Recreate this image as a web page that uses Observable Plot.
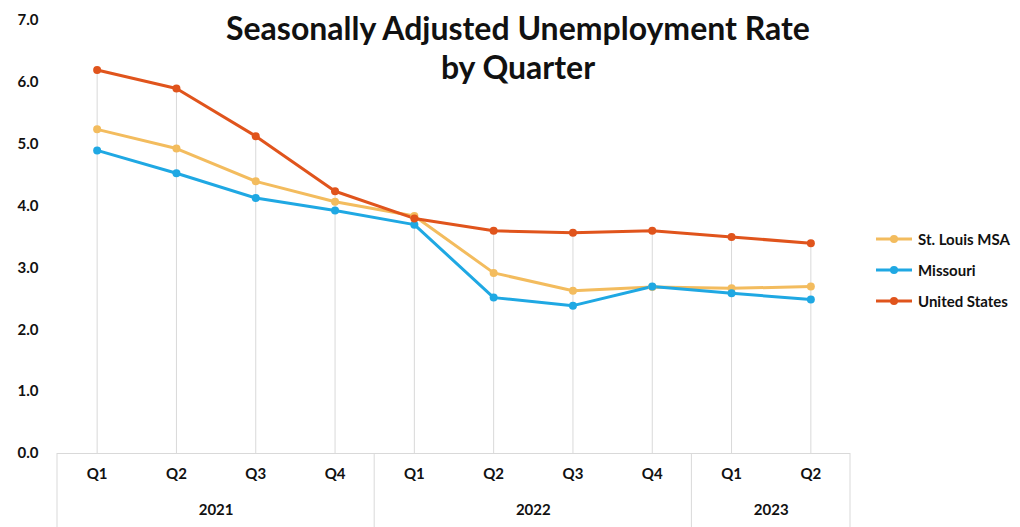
<!DOCTYPE html>
<html><head><meta charset="utf-8">
<script src="https://cdn.jsdelivr.net/npm/d3@7"></script>
<script src="https://cdn.jsdelivr.net/npm/@observablehq/plot@0.6"></script>
<style>
body{margin:0;background:#fff;font-family:Lato,"Open Sans",sans-serif;}
#wrap{position:relative;width:1020px;height:527px;overflow:hidden;}
#title{position:absolute;left:0;width:1036px;top:8px;text-align:center;font-weight:bold;font-size:32px;line-height:39px;color:#111;}
#legend{position:absolute;left:874px;top:223px;}
.item{display:flex;align-items:center;height:31px;font-weight:bold;font-size:15px;color:#111;}
.item svg{margin-right:4px;}
</style></head>
<body>
<div id="wrap"><div id="chart"></div>
<div id="title">Seasonally Adjusted Unemployment Rate<br>by Quarter</div>
<div id="legend"></div></div>
<script>
const quarters = ["Q1","Q2","Q3","Q4","Q1","Q2","Q3","Q4","Q1","Q2"];
const years    = ["2021","2021","2021","2021","2022","2022","2022","2022","2023","2023"];
const stLouis  = [5.24,4.93,4.4,4.07,3.84,2.92,2.63,2.69,2.67,2.7];
const missouri = [4.9,4.53,4.13,3.93,3.7,2.52,2.39,2.7,2.59,2.49];
const unitedStates = [6.2,5.9,5.13,4.24,3.8,3.6,3.57,3.6,3.5,3.4];
const seriesNames  = ["St. Louis MSA","Missouri","United States"];
const seriesColors = ["#F3BC5E","#1FA8E3","#E0541C"];
const yTicks = [0,1,2,3,4,5,6,7];

const seriesValues = [stLouis, missouri, unitedStates];
const rows = [];
seriesNames.forEach((name, s) => seriesValues[s].forEach((v, i) => rows.push({series: name, i, v})));
const cats = quarters.map((q, i) => ({i, q, year: years[i], top: d3.max(seriesValues, a => a[i])}));
const yearGroups = d3.groups(cats, d => d.year).map(([year, g]) => ({year, i: d3.mean(g, d => d.i), lo: d3.min(g, d => d.i) - 0.5, hi: d3.max(g, d => d.i) + 0.5}));
const seps = Array.from(new Set(yearGroups.flatMap(g => [g.lo, g.hi])));

const grid = "#d9d9d9";
const plot = Plot.plot({
  width: 1020, height: 527,
  marginLeft: 57, marginRight: 170, marginTop: 20, marginBottom: 74,
  style: {fontFamily: "Lato, 'Open Sans', sans-serif", background: "#fff"},
  x: {domain: [-0.5, quarters.length - 0.5], axis: null},
  y: {domain: [0, 7], axis: null},
  color: {domain: seriesNames, range: seriesColors},
  marks: [
    Plot.ruleX(cats, {x: "i", y1: 0, y2: "top", stroke: grid, strokeWidth: 1}),
    Plot.ruleY([0], {stroke: grid, strokeWidth: 1}),
    Plot.axisY({ticks: yTicks, tickFormat: d => d.toFixed(1), tickSize: 0, tickPadding: 19, label: null, fontSize: 15, fontWeight: "bold", fill: "#111"}),
    Plot.line(rows, {x: "i", y: "v", z: "series", stroke: "series", strokeWidth: 3, strokeLinejoin: "round"}),
    Plot.dot(rows, {x: "i", y: "v", fill: "series", r: 4}),
    Plot.text(cats, {x: "i", text: "q", frameAnchor: "bottom", dy: 25, fontSize: 15, fontWeight: "bold", fill: "#111"}),
    Plot.text(yearGroups, {x: "i", text: "year", frameAnchor: "bottom", dy: 61, fontSize: 15, fontWeight: "bold", fill: "#111"})
  ]
});
// year-group separators of the category axis, positioned through Plot's scales
const xs = plot.scale("x"), ys = plot.scale("y");
d3.select(plot).append("g").attr("stroke", grid).attr("stroke-width", 1)
  .selectAll("line").data(seps).join("line")
  .attr("x1", d => xs.apply(d)).attr("x2", d => xs.apply(d))
  .attr("y1", ys.apply(0)).attr("y2", 527);
document.getElementById("chart").appendChild(plot);

const legend = d3.select("#legend");
seriesNames.forEach((name, k) => {
  const it = legend.append("div").attr("class", "item");
  const s = it.append("svg").attr("width", 40).attr("height", 10);
  s.append("line").attr("x1", 2).attr("x2", 38).attr("y1", 5).attr("y2", 5).attr("stroke", seriesColors[k]).attr("stroke-width", 3);
  s.append("circle").attr("cx", 20).attr("cy", 5).attr("r", 4).attr("fill", seriesColors[k]);
  it.append("span").text(name);
});
</script>
</body></html>
